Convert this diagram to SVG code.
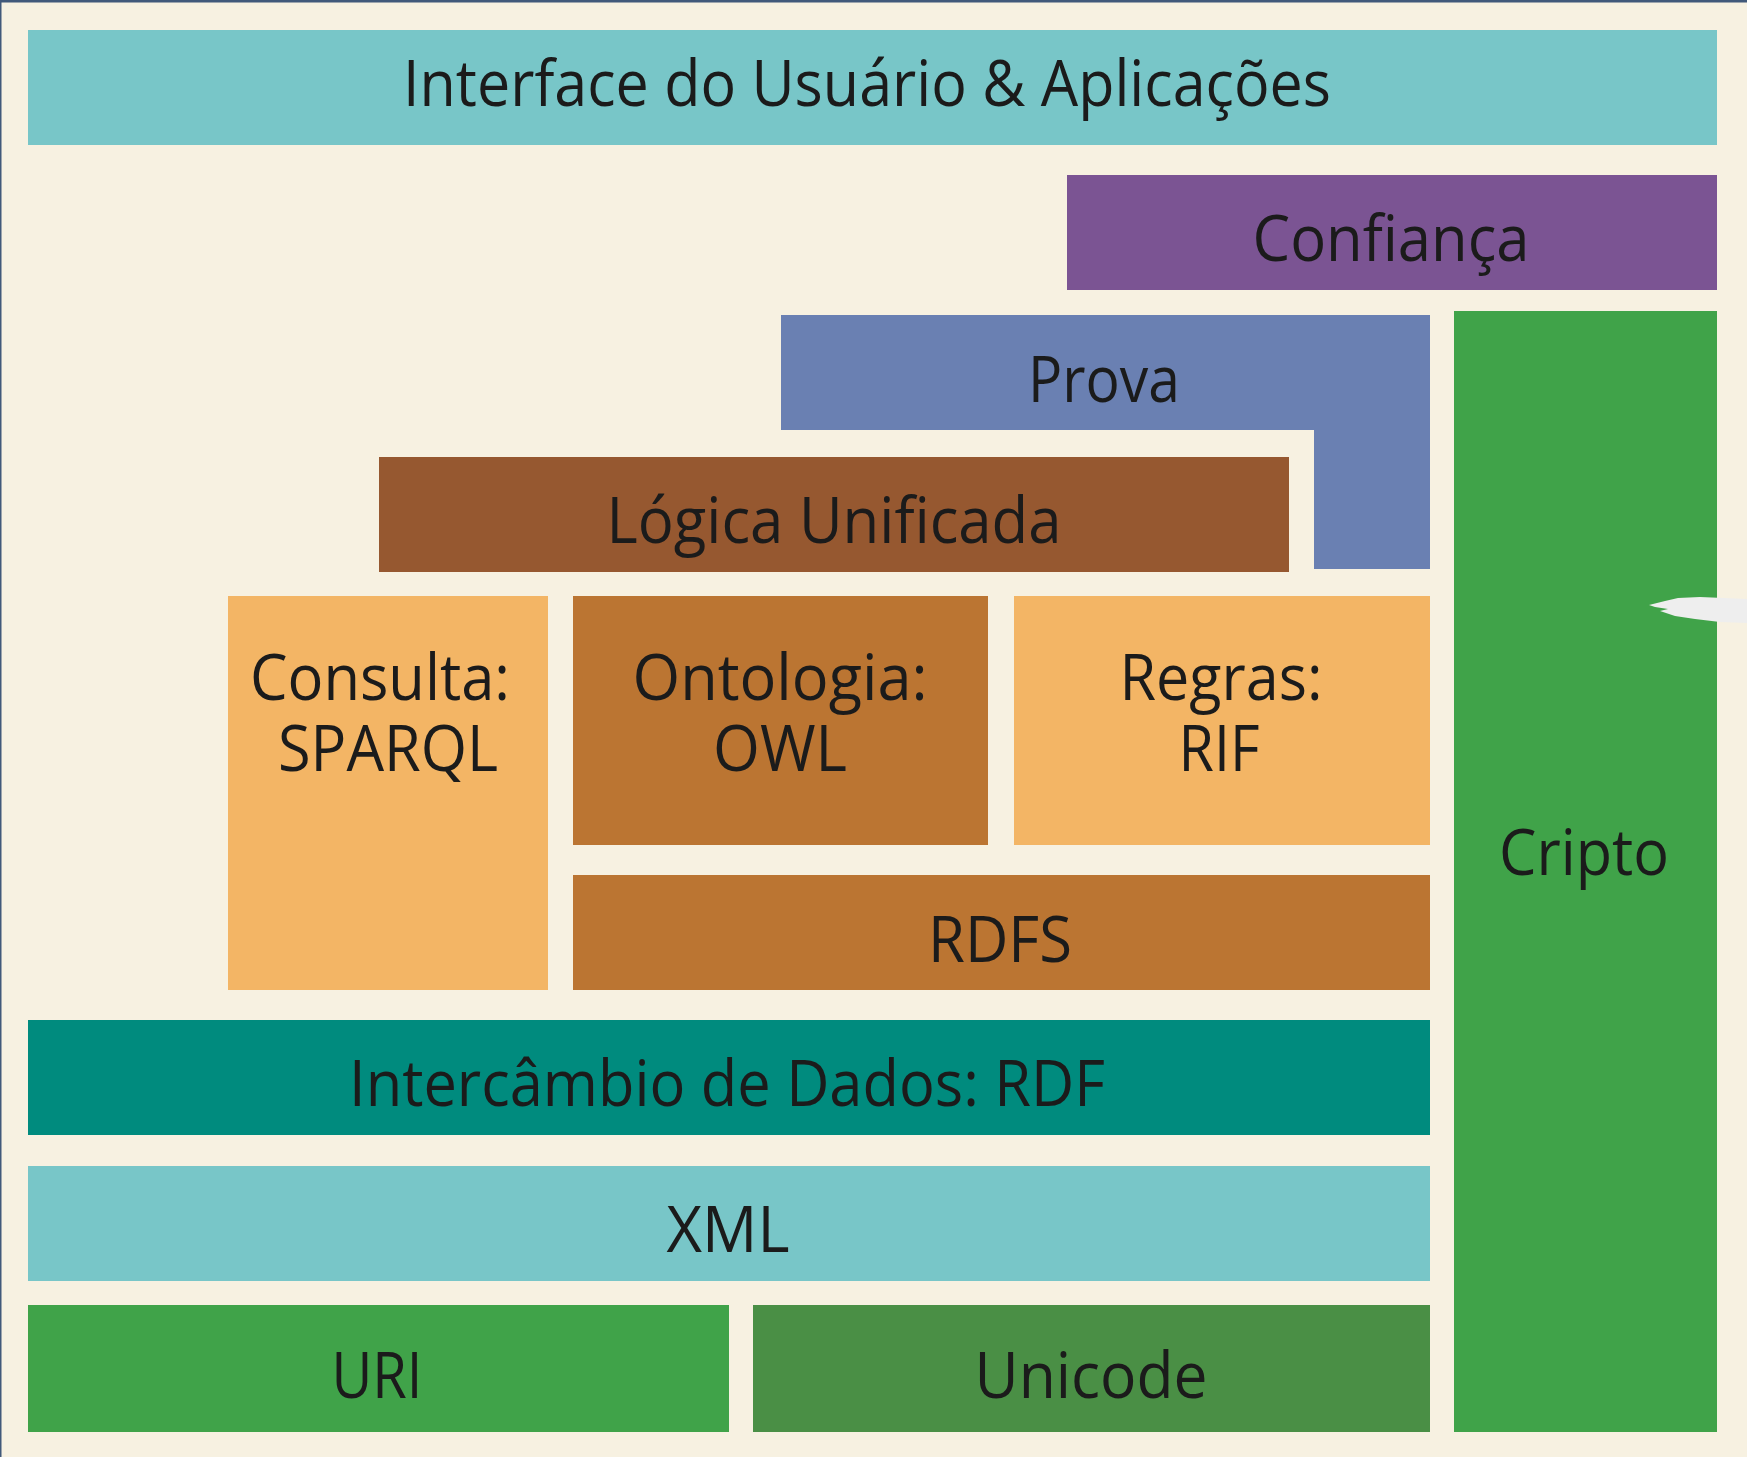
<svg xmlns="http://www.w3.org/2000/svg" width="1747" height="1457" viewBox="0 0 1747 1457">
<style>
  .t { font-family: "Open Sans", "Noto Sans", "Liberation Sans", sans-serif; font-size: 64px; fill: #1b1b1b; text-anchor: middle; }
  .teal { fill: #78c6c8; }
  .purple { fill: #7b5493; }
  .blue { fill: #6a80b2; }
  .brown { fill: #965830; }
  .orange { fill: #f3b565; }
  .ochre { fill: #bb7532; }
  .dteal { fill: #008b7e; }
  .green { fill: #40a349; }
  .dgreen { fill: #4a8f45; }
</style>
<rect x="0" y="0" width="1747" height="1457" fill="#f7f1e1"/>
<rect x="0" y="0" width="1747" height="2.5" fill="#41597a"/>
<rect x="0" y="0" width="1.5" height="1457" fill="#41597a"/>

<g id="interface">
  <rect class="teal" x="28" y="30" width="1689" height="115"/>
  <text class="t" x="867" y="106" textLength="928" lengthAdjust="spacingAndGlyphs">Interface do Usuário &amp; Aplicações</text>
</g>
<g id="confianca">
  <rect class="purple" x="1067" y="175" width="650" height="115"/>
  <text class="t" x="1391" y="261" textLength="277" lengthAdjust="spacingAndGlyphs">Confiança</text>
</g>
<g id="cripto">
  <rect class="green" x="1454" y="311" width="263" height="1121"/>
  <text class="t" x="1584" y="875" textLength="170" lengthAdjust="spacingAndGlyphs">Cripto</text>
</g>
<g id="prova">
  <path class="blue" d="M781 315 H1430 V569 H1314 V430 H781 Z"/>
  <text class="t" x="1104" y="402" textLength="152" lengthAdjust="spacingAndGlyphs">Prova</text>
</g>
<g id="logica">
  <rect class="brown" x="379" y="457" width="910" height="115"/>
  <text class="t" x="834" y="543" textLength="455" lengthAdjust="spacingAndGlyphs">Lógica Unificada</text>
</g>
<g id="consulta">
  <rect class="orange" x="228" y="596" width="320" height="394"/>
  <text class="t" x="380" y="700" textLength="260" lengthAdjust="spacingAndGlyphs">Consulta:</text>
  <text class="t" x="388" y="771" textLength="220" lengthAdjust="spacingAndGlyphs">SPARQL</text>
</g>
<g id="ontologia">
  <rect class="ochre" x="573" y="596" width="415" height="249"/>
  <text class="t" x="780" y="700" textLength="295" lengthAdjust="spacingAndGlyphs">Ontologia:</text>
  <text class="t" x="780" y="771" textLength="134" lengthAdjust="spacingAndGlyphs">OWL</text>
</g>
<g id="regras">
  <rect class="orange" x="1014" y="596" width="416" height="249"/>
  <text class="t" x="1221" y="700" textLength="203" lengthAdjust="spacingAndGlyphs">Regras:</text>
  <text class="t" x="1219" y="771" textLength="81" lengthAdjust="spacingAndGlyphs">RIF</text>
</g>
<g id="rdfs">
  <rect class="ochre" x="573" y="875" width="857" height="115"/>
  <text class="t" x="1000" y="962" textLength="144" lengthAdjust="spacingAndGlyphs">RDFS</text>
</g>
<g id="rdf">
  <rect class="dteal" x="28" y="1020" width="1402" height="115"/>
  <text class="t" x="727" y="1106" textLength="756" lengthAdjust="spacingAndGlyphs">Intercâmbio de Dados: RDF</text>
</g>
<g id="xml">
  <rect class="teal" x="28" y="1166" width="1402" height="115"/>
  <text class="t" x="728" y="1252" textLength="123" lengthAdjust="spacingAndGlyphs">XML</text>
</g>
<g id="uri">
  <rect class="green" x="28" y="1305" width="701" height="127"/>
  <text class="t" x="377" y="1398" textLength="91" lengthAdjust="spacingAndGlyphs">URI</text>
</g>
<g id="unicode">
  <rect class="dgreen" x="753" y="1305" width="677" height="127"/>
  <text class="t" x="1091" y="1398" textLength="233" lengthAdjust="spacingAndGlyphs">Unicode</text>
</g>
<g id="connectors"></g>
<polygon fill="#eeeeee" points="1649,605 1665,601 1678,598 1700,597 1747,599 1747,623 1720,622 1695,619 1675,616 1660,611 1668,609 1655,607"/>
</svg>
